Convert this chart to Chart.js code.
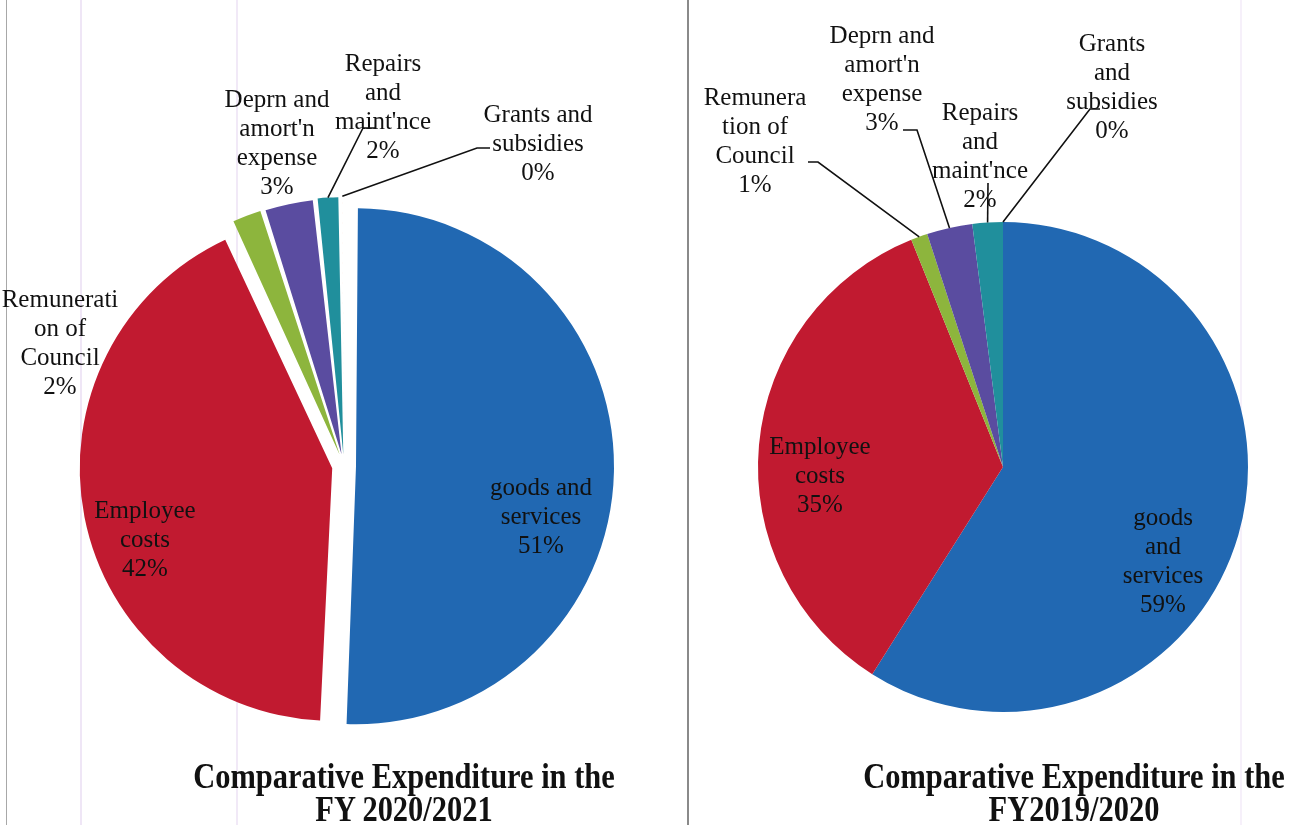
<!DOCTYPE html>
<html>
<head>
<meta charset="utf-8">
<script src="https://cdn.jsdelivr.net/npm/chart.js@4.4.1/dist/chart.umd.min.js"></script>
<style>
    body { margin: 0; background: #fff; width: 1315px; height: 825px; overflow: hidden; position: relative; }
    .panel { position: absolute; top: 0; height: 825px; }
    .panel canvas { position: absolute; left: 0; top: 0; }
    .title {
        position: absolute; width: 600px; text-align: center;
        font-family: "Liberation Serif", "Times New Roman", serif;
        font-weight: bold; font-size: 35px; line-height: 33px; color: #111;
        transform: scaleX(0.87);
    }
    .rule { position: absolute; top: 0; height: 825px; }
</style>
</head>
<body>

<div class="rule" style="left:6px;width:1px;background:#a8a8a8"></div>
<div class="rule" style="left:80px;width:2px;background:#efe6f6"></div>
<div class="rule" style="left:236px;width:2px;background:#f1e9f7"></div>
<div class="rule" style="left:687px;width:2px;background:#8a8a8a"></div>
<div class="rule" style="left:1240px;width:2px;background:#f6f0fa"></div>

<div class="panel" style="left:0;width:688px">
    <canvas id="chart2021" width="688" height="825"></canvas>
    <div class="title" style="left:104px;top:760px">Comparative Expenditure in the<br>FY 2020/2021</div>
</div>
<div class="panel" style="left:688px;width:627px">
    <canvas id="chart2020" width="627" height="825"></canvas>
    <div class="title" style="left:86px;top:760px">Comparative Expenditure in the<br>FY2019/2020</div>
</div>

<script>
// Expenditure categories (same order in both years, clockwise from 12 o'clock)
const categories = ['goods and services', 'Employee costs', 'Remuneration of Council',
    "Deprn and amort'n expense", "Repairs and maint'nce", 'Grants and subsidies'];

// shares (percent)
const values2021 = [50.7, 42.4, 2.0, 3.2, 1.5, 0.2];
const values2020 = [58.9, 34.9, 1.1, 3.0, 2.0, 0];

// label text as wrapped in each chart
const labels2021 = [['goods and', 'services'], ['Employee', 'costs'], ['Remunerati', 'on of', 'Council'],
    ['Deprn and', "amort'n", 'expense'], ['Repairs', 'and', "maint'nce"], ['Grants and', 'subsidies']];
const labels2020 = [['goods', 'and', 'services'], ['Employee', 'costs'], ['Remunera', 'tion of', 'Council'],
    ['Deprn and', "amort'n", 'expense'], ['Repairs', 'and', "maint'nce"], ['Grants', 'and', 'subsidies']];

const sliceColors = ['#2168b2', '#c11a30', '#8db53d', '#5a4ca0', '#208f9c', '#f07030'];

const LINE_H = 29;

// Draw data labels with leader lines
const sliceLabels = {
    id: 'sliceLabels',
    afterDatasetsDraw(chart, args, opts) {
        const ctx = chart.ctx;
        const meta = chart.getDatasetMeta(0);
        const data = chart.data.datasets[0].data;
        const total = data.reduce((a, b) => a + b, 0);

        ctx.save();
        ctx.font = '25px "Liberation Serif", "Times New Roman", serif';
        ctx.fillStyle = '#111';
        ctx.strokeStyle = '#111';
        ctx.lineWidth = 1.6;
        ctx.textAlign = 'center';
        ctx.textBaseline = 'middle';

        meta.data.forEach((arc, i) => {
            const p = arc.getProps(['x', 'y', 'startAngle', 'endAngle', 'outerRadius'], true);
            const cx = p.x, cy = p.y;
            const lines = opts.text[i].concat(Math.round(data[i] / total * 100) + '%');
            const pos = opts.pos[i];
            const lead = opts.leaders[i];

            if (lead) {
                // point on the slice edge, along its bisector
                const mid = (p.startAngle + p.endAngle) / 2;
                const t = (arc.options.offset || 0) / 4;
                const fix = 1 - Math.sin(Math.min(Math.PI, p.endAngle - p.startAngle));
                const rr = p.outerRadius + t + t * fix;
                ctx.beginPath();
                lead.forEach(([x, y], k) => k ? ctx.lineTo(cx + x, cy + y) : ctx.moveTo(cx + x, cy + y));
                ctx.lineTo(cx + Math.cos(mid) * rr, cy + Math.sin(mid) * rr);
                ctx.stroke();
            }

            const y0 = cy + pos[1] - (lines.length - 1) * LINE_H / 2;
            lines.forEach((s, k) => ctx.fillText(s, cx + pos[0], y0 + k * LINE_H));
        });
        ctx.restore();
    }
};

function makePie(id, values, text, opt) {
    const ctx = document.getElementById(id).getContext('2d');
    return new Chart(ctx, {
        type: 'pie',
        data: {
            labels: categories,
            datasets: [{
                data: values,
                backgroundColor: sliceColors,
                borderWidth: 0,
                offset: opt.offset
            }]
        },
        options: {
            responsive: false,
            animation: false,
            radius: opt.radius,
            layout: { padding: opt.padding },
            plugins: {
                legend: { display: false },
                tooltip: { enabled: false },
                sliceLabels: { text: text, pos: opt.pos, leaders: opt.leaders }
            }
        },
        plugins: [sliceLabels]
    });
}

// FY 2020/2021 - exploded pie
makePie('chart2021', values2021, labels2021, {
    radius: 246,
    offset: 48,
    padding: { left: 22, right: 22, top: 150, bottom: 43 },
    pos: [[197, 51], [-199, 74], [-284, -122], [-67, -322], [39, -358], [194, -322]],
    leaders: [null, null, null, null, [[31, -338], [19, -338]], [[146, -318], [133, -318]]]
});

// FY 2019/2020
makePie('chart2020', values2020, labels2020, {
    radius: 245,
    offset: 0,
    padding: { left: 23, right: 20, top: 150, bottom: 41 },
    pos: [[160, 95], [-183, 9], [-248, -325], [-121, -387], [-23, -310], [109, -379]],
    leaders: [null, null, [[-195, -305], [-185, -305]], [[-100, -337], [-86, -337]],
        [[-15, -284]], [[97, -358], [87, -358]]]
});
</script>
</body>
</html>
